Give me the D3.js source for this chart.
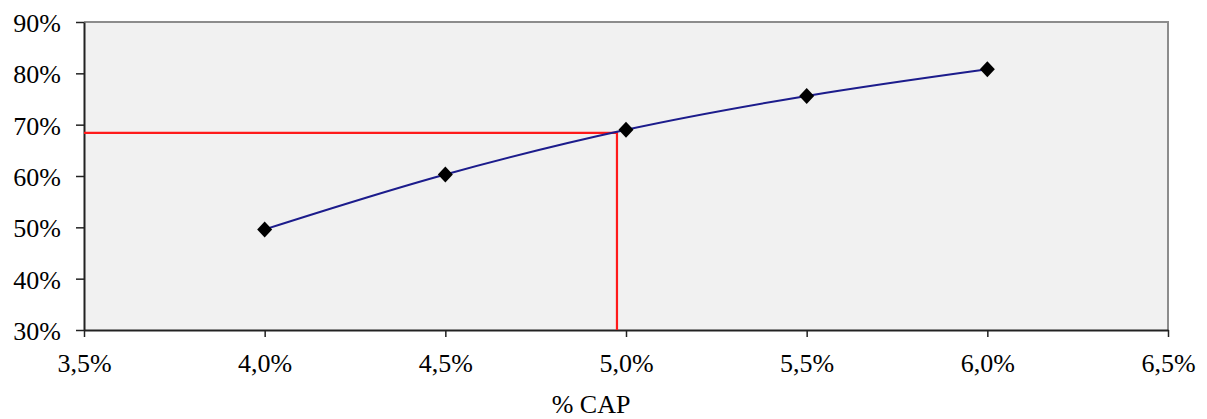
<!DOCTYPE html>
<html><head><meta charset="utf-8">
<script src="https://cdn.jsdelivr.net/npm/d3@7"></script>
<style>body{margin:0;background:#fff}svg{display:block}text{font-family:"Liberation Serif","Times New Roman",serif;fill:#000}</style>
</head><body>
<svg id="c" width="1207" height="419"></svg>
<script>
const capValues = [4.0, 4.5, 5.0, 5.5, 6.0];
const shareValues = [49.6, 60.3, 69.0, 75.6, 80.8];
const xTicks = [3.5, 4.0, 4.5, 5.0, 5.5, 6.0, 6.5];
const yTicks = [30, 40, 50, 60, 70, 80, 90];
const refPoint = [4.975, 68.4];
const xTitle = "% CAP";

const svg = d3.select("#c");
const L = 84, R = 1168, T = 22, B = 330;
const x = d3.scaleLinear().domain([3.5, 6.5]).range([L, R]);
const y = d3.scaleLinear().domain([30, 90]).range([B, T]);

svg.append("rect").attr("x", L).attr("y", T).attr("width", R - L).attr("height", B - T).attr("fill", "#f1f1f1");
svg.append("path").attr("d", `M${L},${T}H${R}V${B}`).attr("fill", "none").attr("stroke", "#8c8c8c").attr("stroke-width", 2);

const fmt = d => d.toFixed(1).replace(".", ",") + "%";
const xa = svg.append("g").attr("transform", `translate(0,${B})`)
  .call(d3.axisBottom(x).tickValues(xTicks).tickSize(7).tickSizeOuter(0).tickFormat(fmt));
const ya = svg.append("g").attr("transform", `translate(${L},0)`)
  .call(d3.axisLeft(y).tickValues(yTicks).tickSize(8).tickSizeOuter(0).tickFormat(d => d + "%"));
[xa, ya].forEach(a => {
  a.select(".domain").attr("stroke", "#222").attr("stroke-width", 2);
  a.selectAll(".tick line").attr("stroke", "#222").attr("stroke-width", 1.5);
  a.selectAll("text").attr("font-size", 26).attr("font-family", '"Liberation Serif",serif').attr("fill", "#111");
});
xa.selectAll("text").attr("dy", null).attr("y", 42);
ya.selectAll("text").attr("x", -23).attr("dy", "0.36em");

svg.append("path")
  .attr("d", `M${x(3.5)},${y(refPoint[1])}H${x(refPoint[0])}V${y(30)}`)
  .attr("fill", "none").attr("stroke", "#ff1a1a").attr("stroke-width", 2.2);

const pts = capValues.map((c, i) => [c, shareValues[i]]);
svg.append("path").datum(pts)
  .attr("d", d3.line().x(d => x(d[0])).y(d => y(d[1])).curve(d3.curveCatmullRom.alpha(0.5)))
  .attr("fill", "none").attr("stroke", "#1c1c8c").attr("stroke-width", 2);

svg.selectAll(".m").data(pts).enter().append("path")
  .attr("transform", d => `translate(${x(d[0])},${y(d[1])})`)
  .attr("d", "M0,-8L7.5,0L0,8L-7.5,0Z").attr("fill", "#000");

svg.append("text").attr("x", 591).attr("y", 413).attr("text-anchor", "middle").attr("font-size", 26).attr("fill", "#111").text(xTitle);
</script>
</body></html>
